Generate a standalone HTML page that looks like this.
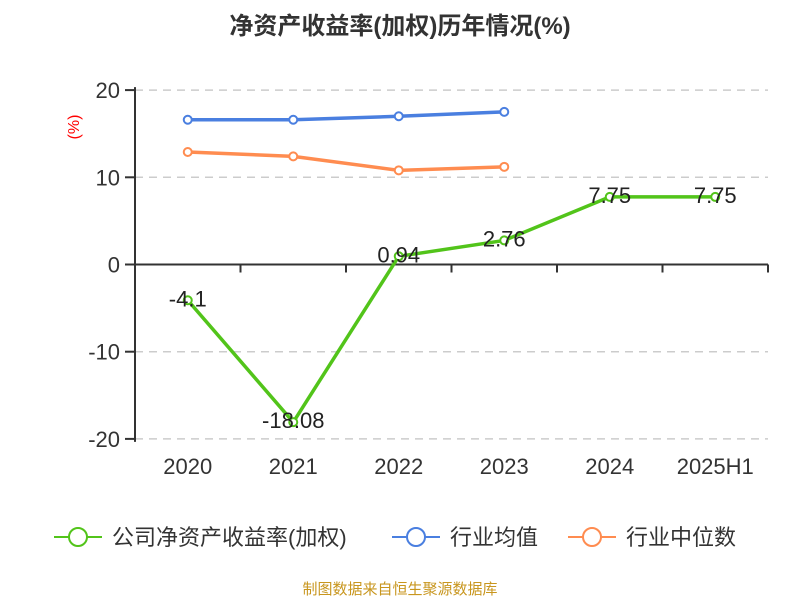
<!DOCTYPE html>
<html><head><meta charset="utf-8"><style>
body{margin:0;background:#fff;width:800px;height:600px;overflow:hidden;font-family:"Liberation Sans","Noto Sans CJK SC",sans-serif}
</style></head><body>
<svg id="c" width="800" height="600" font-family="Liberation Sans, Noto Sans CJK SC, sans-serif">
<text x="400" y="34" text-anchor="middle" font-size="24" font-weight="bold" fill="#333">净资产收益率(加权)历年情况(%)</text>
<text transform="translate(79,127) rotate(-90)" text-anchor="middle" font-size="16" fill="#f00">(%)</text>
<g id="grid"></g><g id="series"></g>
<g>
<g><line x1="54" y1="537" x2="102" y2="537" stroke="#52c41a" stroke-width="2"/><circle cx="78" cy="537" r="9" fill="#fff" stroke="#52c41a" stroke-width="2"/><text x="112" y="545" font-size="22" fill="#333">公司净资产收益率(加权)</text></g>
<g><line x1="392" y1="537" x2="440" y2="537" stroke="#4a7fe0" stroke-width="2"/><circle cx="416" cy="537" r="9" fill="#fff" stroke="#4a7fe0" stroke-width="2"/><text x="450" y="545" font-size="22" fill="#333">行业均值</text></g>
<g><line x1="568" y1="537" x2="616" y2="537" stroke="#ff8c50" stroke-width="2"/><circle cx="592" cy="537" r="9" fill="#fff" stroke="#ff8c50" stroke-width="2"/><text x="626" y="545" font-size="22" fill="#333">行业中位数</text></g>
</g>
<text x="400" y="594" text-anchor="middle" font-size="15" fill="#c8961e">制图数据来自恒生聚源数据库</text>
</svg>
<script>
const categories=["2020","2021","2022","2023","2024","2025H1"];
const companyValues=[-4.1,-18.08,0.94,2.76,7.75,7.75];
const industryAvg=[16.6,16.6,17.0,17.5];
const industryMedian=[12.9,12.4,10.8,11.2];
const yTicks=[20,10,0,-10,-20];
const NS="http://www.w3.org/2000/svg";
const L=135,R=768,band=(R-L)/categories.length;
const y=v=>264.5-v*8.72;
const x=i=>L+band*(i+0.5);
function mk(t,a,p){const e=document.createElementNS(NS,t);for(const k in a)e.setAttribute(k,a[k]);p.appendChild(e);return e;}
const g=document.getElementById('grid'),s=document.getElementById('series');
yTicks.forEach(v=>{
 if(v!==0){const l=mk('line',{x1:L,x2:R,y1:y(v),y2:y(v),stroke:'#ccc','stroke-dasharray':'8,6','stroke-width':1.5},g);}
 mk('line',{x1:L-10,x2:L,y1:y(v),y2:y(v),stroke:'#333','stroke-width':2},g);
 const t=mk('text',{x:L-15,y:y(v)+8,'text-anchor':'end','font-size':22,fill:'#333'},g);t.textContent=v;
 
});
mk('line',{x1:L,x2:L,y1:y(20)-3,y2:y(-20)+3,stroke:'#333','stroke-width':2},g);
mk('line',{x1:L,x2:R,y1:y(0),y2:y(0),stroke:'#333','stroke-width':2},g);
categories.forEach((c,i)=>{
 mk('line',{x1:L+band*(i+1),x2:L+band*(i+1),y1:y(0),y2:y(0)+8,stroke:'#333','stroke-width':2},g);
 const t=mk('text',{x:x(i),y:474,'text-anchor':'middle','font-size':22,fill:'#333'},g);t.textContent=c;
 
});
function line(vals,color,name,labels){
 const gr=mk('g',{},s);
 mk('polyline',{points:vals.map((v,i)=>x(i)+','+y(v)).join(' '),fill:'none',stroke:color,'stroke-width':3.5},gr);
 vals.forEach((v,i)=>{const c=mk('circle',{cx:x(i),cy:y(v),r:4,fill:'#fff',stroke:color,'stroke-width':2},gr);
  
  if(labels){const t=mk('text',{x:x(i),y:y(v)+6,'text-anchor':'middle','font-size':22,fill:'#222'},gr);
   t.textContent=v;}
 });
}
line(industryAvg,'#4a7fe0','industry-avg-line',false);
line(industryMedian,'#ff8c50','industry-median-line',false);
line(companyValues,'#52c41a','company-roe-line',true);
</script>
</body></html>
